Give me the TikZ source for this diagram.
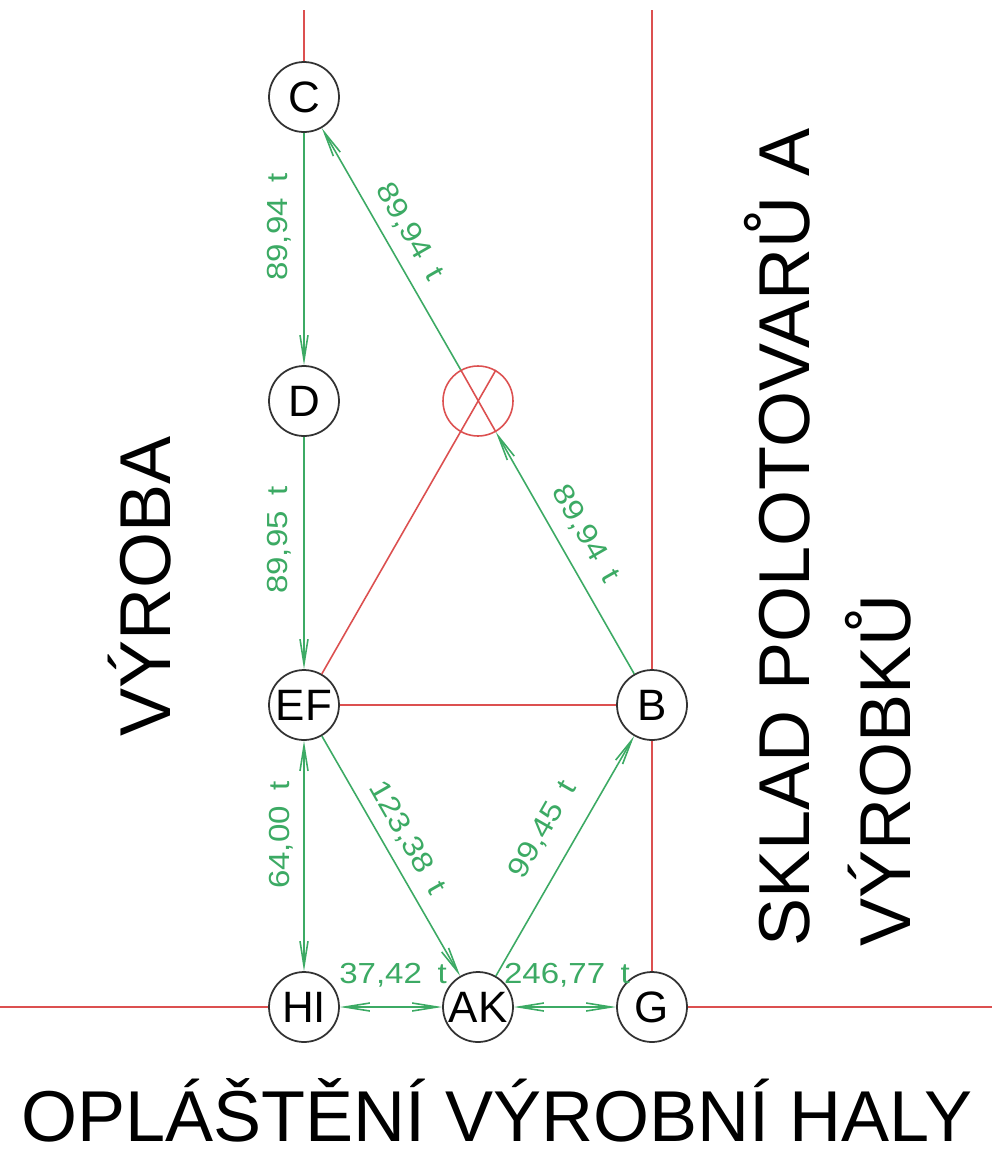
\documentclass[tikz,border=0pt]{standalone}
\usepackage{fontspec}
\setmainfont{Liberation Sans}
\newfontfamily\lblfont[FakeStretch=1.14,WordSpace=1.7]{Liberation Sans}
\usetikzlibrary{arrows.meta,calc}
\definecolor{redl}{RGB}{220,80,80}
\definecolor{grn}{RGB}{60,170,100}
\definecolor{circ}{RGB}{50,50,50}
\begin{document}
\begin{tikzpicture}[x=0.02cm,y=-0.02cm,
  station/.style={circle, draw=circ, line width=1pt, fill=white, minimum size=1.4cm, inner sep=0pt, font=\fontsize{25}{25}\selectfont},
  crossnode/.style={circle, draw=redl, line width=0.9pt, minimum size=1.4cm, inner sep=0pt},
  redline/.style={draw=redl, line width=0.9pt},
  flow/.style={draw=grn, line width=0.9pt},
  >={Straight Barb[length=0.5cm,width=0.16cm,line width=0.9pt]},
  lbl/.style={text=grn, font=\lblfont\fontsize{16.5}{16.5}\selectfont, anchor=base, inner sep=0pt},
  big/.style={font=\fontsize{41}{41}\selectfont, inner sep=0pt}
]
\fill[white] (0,0) rectangle (992,1157);
\useasboundingbox (0,0) rectangle (992,1157);

% stations
\node[station] (C) at (304,97) {C};
\node[station] (D) at (304,401) {D};
\node[crossnode] (X) at (478,401) {};
\node[station] (EF) at (304,705) {EF};
\node[station] (B) at (652,705) {B};
\node[station] (HI) at (304,1007) {HI};
\node[station] (AK) at (478,1007) {AK};
\node[station] (G) at (652,1007) {G};

% free ends of the red walls
\coordinate (topL) at (304,10);
\coordinate (topR) at (652,10);
\coordinate (left) at (0,1007);
\coordinate (right) at (992,1007);

% red lines
\draw[redline] (topL) -- (C);
\draw[redline] (topR) -- (B);
\draw[redline] (B) -- (G);
\draw[redline] (left) -- (HI);
\draw[redline] (G) -- (right);
\draw[redline] (EF) -- (B);
\draw[redline] (EF) -- (X.60.2);
\draw[redline] (X.119.8) -- (X.-60.2);

% green flows
\draw[flow,->] (C) -- (D);
\draw[flow,->] (D) -- (EF);
\draw[flow,<->] (EF) -- (HI);
\draw[flow,->] (X.119.8) -- (C);
\draw[flow,->] (B) -- (X.-60.2);
\draw[flow,->] (EF) -- (AK);
\draw[flow,->] (AK) -- (B);
\draw[flow,<->] (HI) -- (AK);
\draw[flow,<->] (AK) -- (G);

% flow labels
\node[lbl, rotate=90] (l1) at (287,227) {89,94 t};
\node[lbl, rotate=90] (l2) at (287,540) {89,95 t};
\node[lbl, rotate=90] (l3) at (289,835) {64,00 t};
\node[lbl, rotate=-60.2] (l4) at (402,236) {89,94 t};
\node[lbl, rotate=-60.2] (l5) at (578,538) {89,94 t};
\node[lbl, rotate=-60.2] (l6) at (400,842) {123,38 t};
\node[lbl, rotate=60.2] (l7) at (550,834) {99,45 t};
\node[lbl] (l8) at (393,983) {37,42 t};
\node[lbl] (l9) at (567,983) {246,77 t};

% area titles
\node[big, rotate=90, anchor=base west] (vyroba) at (170,737) {VÝROBA};
\node[big, rotate=90, anchor=base west] (sklad1) at (809,947) {SKLAD POLOTOVARŮ A};
\node[big, rotate=90, anchor=base west] (sklad2) at (910,947) {VÝROBKŮ};
\node[big, anchor=base] (plast) at (497,1141) {OPLÁŠTĚNÍ VÝROBNÍ HALY};
\end{tikzpicture}
\end{document}
